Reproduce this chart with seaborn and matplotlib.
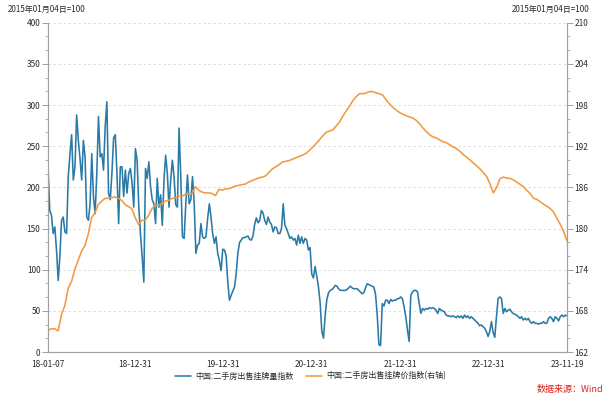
import pandas as pd
import numpy as np
import seaborn as sns
import matplotlib
matplotlib.use("Agg")
import matplotlib.pyplot as plt
from matplotlib.ticker import AutoMinorLocator

# 中国:二手房出售挂牌量指数 (left axis), weekly-ish readings
listing_volume = [
    221, 172, 166, 144, 152, 124, 87, 116, 160, 164, 146, 144, 213, 240, 264, 209,
    225, 288, 257, 235, 209, 257, 237, 164, 160, 180, 241, 189, 168, 217, 286, 237,
    241, 221, 274, 304, 193, 185, 217, 260, 264, 217, 156, 225, 225, 189, 221, 193,
    217, 223, 205, 176, 247, 233, 176, 144, 116, 85, 223, 211, 231, 201, 185, 180,
    156, 211, 176, 191, 154, 209, 239, 217, 176, 209, 233, 213, 179, 176, 272, 213,
    140, 138, 180, 215, 180, 185, 213, 180, 120, 130, 132, 156, 140, 138, 140, 162,
    180, 164, 144, 132, 140, 120,
    111, 99, 125, 124, 117, 85, 63, 69, 74, 79, 95, 120, 133, 136, 139, 139, 140,
    141, 137, 136, 141, 155, 163, 157, 160, 172, 169, 160, 155, 164, 158, 155, 146,
    152, 151, 144, 144, 150, 180, 154, 150, 144, 138, 140, 136, 138, 130, 142, 132,
    140, 132, 138, 136, 124,
    127, 95, 90, 104, 92, 79, 60, 25, 17, 45, 64, 72, 75, 76, 78, 81, 80, 77, 75,
    75, 75, 75, 76, 78, 80, 78, 77, 77, 77, 75, 73, 71, 72, 78, 83, 82, 81, 80, 79,
    70, 45, 9, 8, 59, 56, 63, 63, 59, 64, 62, 63, 63, 65, 65,
    67, 65, 55, 43, 27, 13, 69, 73, 75, 75, 73, 59, 47, 53, 51, 53, 52, 54, 53, 54,
    53, 51, 47, 53, 51, 50, 49, 45, 44, 44, 43, 44, 43, 42, 44, 42, 44, 41, 45, 42,
    44, 41, 43, 41, 39, 37, 35, 32, 33, 31, 29, 25, 19, 25, 37,
    24, 18, 43, 65, 67, 65, 47, 53, 49, 51, 52, 49, 47, 46, 45, 43, 41, 43, 39, 41,
    39, 41, 37, 35, 37, 35, 35, 34, 35, 35, 37, 35, 35, 41, 43, 41, 37, 43, 41, 38,
    43, 45, 43, 45, 44,
]

# 中国:二手房出售挂牌价指数 (right axis), biweekly-ish readings
listing_price = [
    165.2, 165.4, 165.4, 165.1, 167.5, 168.8, 171.3, 172.3, 174.1, 175.4, 176.7,
    177.5, 179.2, 181.6, 182.3, 183.5, 184.0, 184.4, 184.4, 184.5, 184.6, 184.4,
    184.1, 183.5, 183.2, 182.9, 181.6, 180.6,
    181.2, 181.2, 181.9, 182.9, 183.4, 183.4, 183.6, 184.0, 184.1, 184.4, 184.5,
    184.7, 184.7, 185.0, 185.1, 185.1, 186.1, 185.6, 185.3, 185.2, 185.2, 185.1,
    184.8, 185.7, 185.6, 185.8, 185.8,
    186.0, 186.2, 186.3, 186.4, 186.5, 186.8, 187.0, 187.2, 187.4, 187.5, 187.7,
    188.2, 188.7, 189.0, 189.3, 189.7, 189.8, 189.9, 190.1, 190.3, 190.5,
    190.7, 190.95, 191.35, 191.85, 192.35, 192.9, 193.5, 194.0, 194.2, 194.35,
    194.9, 195.5, 196.35, 197.1, 197.8, 198.6, 199.2, 199.65, 199.65, 199.75,
    199.95, 199.95, 199.75, 199.65, 199.4, 198.75, 198.15, 197.65, 197.25, 196.9,
    196.65, 196.45, 196.25, 196.1, 195.75, 195.25, 194.65, 194.1, 193.65, 193.35,
    193.2, 192.9, 192.65, 192.5, 192.2, 191.9, 191.65, 191.25, 190.8, 190.4,
    190.0, 189.55, 189.15, 188.7, 188.15, 187.6, 186.5, 185.2, 186.0, 187.3,
    187.5, 187.35, 187.3, 187.1, 186.75, 186.45, 186.1, 185.55, 185.1, 184.4,
    184.25, 183.9, 183.55, 183.25, 182.9, 182.4, 181.5, 180.6, 179.6, 178.2,
]

start_date = "2018-01-07"
end_date = "2023-11-19"
tick_dates = ["2018-01-07", "2018-12-31", "2019-12-31", "2020-12-31",
              "2021-12-31", "2022-12-31", "2023-11-19"]
left_ticks = [0, 50, 100, 150, 200, 250, 300, 350, 400]
right_ticks = [162, 168, 174, 180, 186, 192, 198, 204, 210]

vol_name = "中国:二手房出售挂牌量指数"
price_name = "中国:二手房出售挂牌价指数(右轴)"

df_vol = pd.DataFrame({"date": pd.date_range(start_date, end_date, periods=len(listing_volume)),
                       "value": listing_volume})
df_price = pd.DataFrame({"date": pd.date_range(start_date, end_date, periods=len(listing_price)),
                         "value": listing_price})

sns.set_style("white")
plt.rcParams["font.family"] = ["Noto Sans CJK SC", "DejaVu Sans"]
plt.rcParams["axes.unicode_minus"] = False

blue = "#2a7aa6"
orange = "#f29a3e"
axis_grey = "#a0a0a0"
text_col = "#2b2b2b"

fig = plt.figure(figsize=(6.09, 3.97), dpi=100)
ax = fig.add_axes([0.079, 0.113, 0.852, 0.830])
ax2 = ax.twinx()

sns.lineplot(data=df_vol, x="date", y="value", ax=ax, color=blue, linewidth=1.15, label=vol_name, legend=False)
sns.lineplot(data=df_price, x="date", y="value", ax=ax2, color=orange, linewidth=1.15, label=price_name, legend=False)

ax.set_xlim(pd.Timestamp(start_date), pd.Timestamp(end_date))
ax.set_ylim(0, 400)
ax2.set_ylim(162, 210)
ax.set_yticks(left_ticks)
ax2.set_yticks(right_ticks)
ax.yaxis.set_minor_locator(AutoMinorLocator(3))
ax2.yaxis.set_minor_locator(AutoMinorLocator(3))

ax.set_xticks(pd.to_datetime(tick_dates))
ax.set_xticklabels([pd.Timestamp(d).strftime("%y-%m-%d") for d in tick_dates])
ax.set_xticks(pd.date_range("2018-03-31", "2023-09-30", freq="QE"), minor=True)

ax.set_xlabel("")
ax.set_ylabel("")
ax2.set_ylabel("")

ax.yaxis.grid(True, linestyle=(0, (3, 3)), color="#d9d9d9", linewidth=0.6)
ax.set_axisbelow(True)

for a in (ax, ax2):
    a.spines["top"].set_visible(False)
    for side in ("left", "right", "bottom"):
        a.spines[side].set_color(axis_grey)
        a.spines[side].set_linewidth(0.8)
    a.tick_params(which="major", length=4, width=0.7, color=axis_grey, labelsize=6,
                  labelcolor=text_col, pad=1.5)
    a.tick_params(which="minor", length=2.5, width=0.6, color=axis_grey)

fig.text(0.013, 0.975, "2015年01月04日=100", fontsize=5.8, color=text_col, ha="left", va="center")
fig.text(0.968, 0.975, "2015年01月04日=100", fontsize=5.8, color=text_col, ha="right", va="center")

h1, l1 = ax.get_legend_handles_labels()
h2, l2 = ax2.get_legend_handles_labels()
fig.legend(h1 + h2, l1 + l2, loc="center", bbox_to_anchor=(0.51, 0.053), ncol=2, frameon=False,
           fontsize=5.8, handlelength=2.0, handletextpad=0.5, columnspacing=1.5,
           labelcolor=text_col)

fig.text(0.99, 0.02, "数据来源：Wind", fontsize=6.5, color="#e0201b", ha="right", va="center")

fig.savefig("out.png", dpi=100, facecolor="white")
